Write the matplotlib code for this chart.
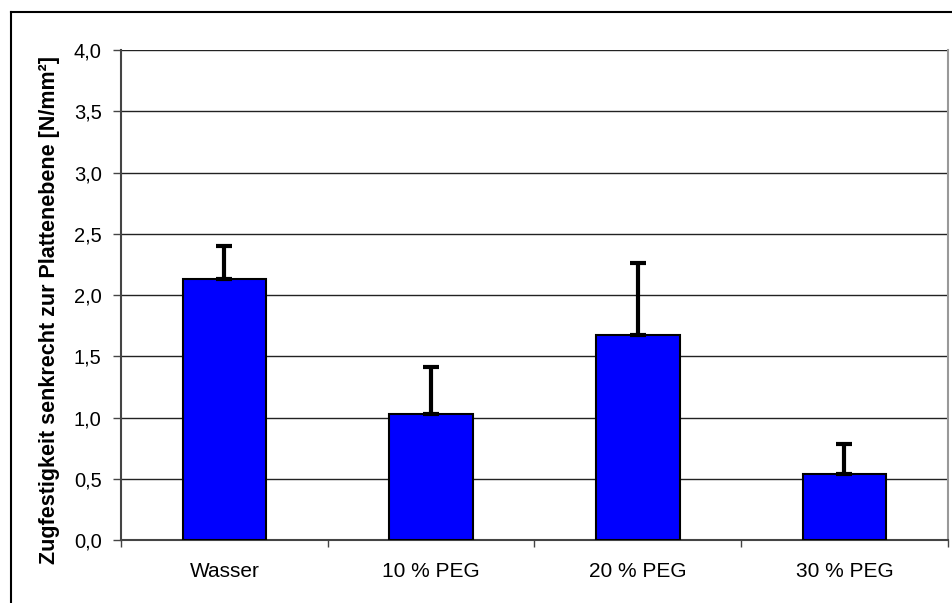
import numpy as np
import matplotlib.pyplot as plt
from matplotlib.lines import Line2D
from matplotlib.ticker import FuncFormatter, MultipleLocator

plt.rcParams['font.family'] = ['Liberation Sans', 'DejaVu Sans']

# Daten
categories = ["Wasser", "10 % PEG", "20 % PEG", "30 % PEG"]
values = [2.13, 1.03, 1.67, 0.54]
errors = [0.27, 0.38, 0.59, 0.24]

fig = plt.figure(figsize=(9.53, 6.03), dpi=100)
ax = fig.add_axes([0.127, 0.1045, 0.8675, 0.8125])

x = np.arange(len(categories))
ax.bar(x, values, width=0.405, color="#0000ff", edgecolor="black", linewidth=1.5, zorder=3)
ax.errorbar(x, values, yerr=[np.zeros(len(errors)), errors], fmt="none",
            ecolor="black", elinewidth=3, capsize=6, capthick=3, zorder=4)

ax.set_xlim(-0.5, len(categories) - 0.5)
ax.set_ylim(0, 4.0)
ax.yaxis.set_major_locator(MultipleLocator(0.5))
ax.yaxis.set_major_formatter(FuncFormatter(lambda v, p: f"{v:.1f}".replace(".", ",")))
ax.set_xticks(x)
ax.set_xticklabels(categories)
ax.set_xticks(np.arange(len(categories) + 1) - 0.5, minor=True)
ax.tick_params(axis="x", which="major", length=0, pad=15.5, labelsize=15)
ax.tick_params(axis="x", which="minor", length=5, width=1, color="#444444", direction="out")
ax.tick_params(axis="y", length=6, width=1, color="#444444", pad=8, labelsize=14.5)

ax.grid(axis="y", color="#222222", linewidth=1, zorder=0)
ax.spines["top"].set_visible(False)
ax.spines["right"].set_color("#999999")
ax.spines["right"].set_linewidth(1.5)
ax.spines["left"].set_color("#444444")
ax.spines["bottom"].set_color("#444444")
ax.spines["left"].set_linewidth(1.5)
ax.spines["bottom"].set_linewidth(1.5)

ax.set_ylabel("Zugfestigkeit senkrecht zur Plattenebene [N/mm²]", fontsize=15.5,
              fontweight="bold", labelpad=10)
ax.yaxis.label.set_y(0.469)

# Rahmen um das Diagramm
fig.add_artist(Line2D([11 / 953, 1], [1 - 12 / 603, 1 - 12 / 603], color="black", linewidth=1.5))
fig.add_artist(Line2D([11 / 953, 11 / 953], [0, 1 - 12 / 603], color="black", linewidth=1.5))

fig.savefig("out.png", dpi=100)
